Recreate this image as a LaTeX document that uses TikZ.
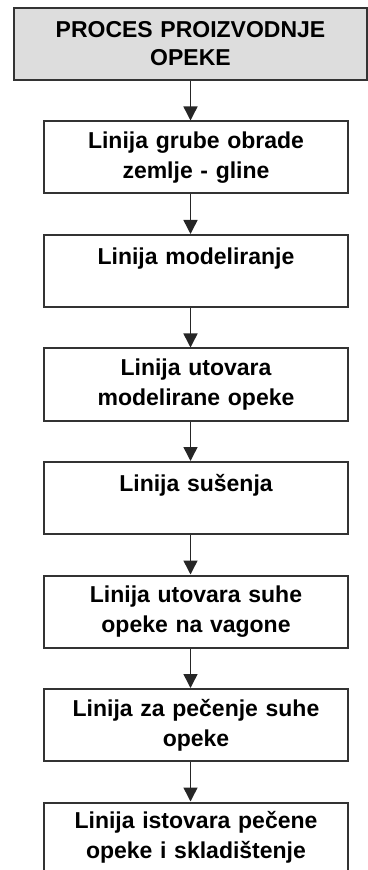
\documentclass[tikz,border=0pt]{standalone}
\usepackage{fontspec}
\setmainfont{Liberation Sans}
\usepackage{tikz}
\usetikzlibrary{arrows.meta, positioning}
\definecolor{rub}{HTML}{333333}
\definecolor{siva}{HTML}{DDDDDD}

\begin{document}
\begin{tikzpicture}[node distance=19.75pt,
  korak/.style={draw=rub, line width=1pt, text width=142pt, inner xsep=5pt,
    minimum height=36pt, align=center, text=black,
    font=\fontsize{11.5}{15}\selectfont\bfseries},
  naslov/.style={korak, fill=siva, text width=166.5pt,
    font=\fontsize{11.5}{14}\selectfont\bfseries},
  pil/.style={draw=black!85, line width=0.75pt, -{Triangle[width=7pt,length=7pt]}}]
\useasboundingbox (0,0) rectangle (184pt,-435pt);

\node (A) [naslov] at (95.25pt,-22pt) {PROCES PROIZVODNJE\\OPEKE};
\node (B) [korak, below=of A, xshift=2.75pt] {Linija grube obrade\\zemlje - gline};
\node (C) [korak, below=of B] {Linija modeliranje\\\mbox{}};
\node (D) [korak, below=of C] {Linija utovara\\modelirane opeke};
\node (E) [korak, below=of D] {Linija sušenja\\\mbox{}};
\node (F) [korak, below=of E] {Linija utovara suhe\\opeke na vagone};
\node (G) [korak, below=of F] {Linija za pečenje suhe\\opeke};
\node (H) [korak, below=of G, minimum height=34.75pt] {Linija istovara pečene\\opeke i skladištenje};

\draw[pil] (A.south) -- (B.north -| A);
\draw[pil] (B.south -| A) -- (C.north -| A);
\draw[pil] (C.south -| A) -- (D.north -| A);
\draw[pil] (D.south -| A) -- (E.north -| A);
\draw[pil] (E.south -| A) -- (F.north -| A);
\draw[pil] (F.south -| A) -- (G.north -| A);
\draw[pil] (G.south -| A) -- (H.north -| A);
\end{tikzpicture}
\end{document}
